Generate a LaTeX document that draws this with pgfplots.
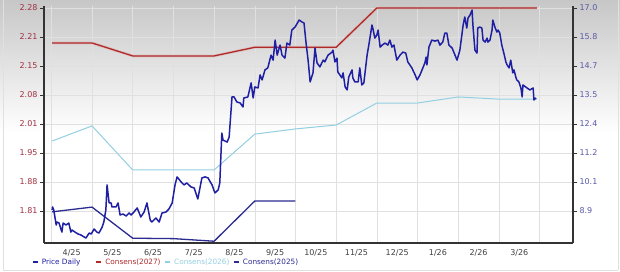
\documentclass[border=0pt]{standalone}
\usepackage{fontspec}
\setmainfont{DejaVu Sans}
\usepackage{pgfplots}
\pgfplotsset{compat=1.18}
\definecolor{pricec}{HTML}{1F1FA3}
\definecolor{c27}{HTML}{B02A2A}
\definecolor{c26}{HTML}{93CFE2}
\definecolor{c25}{HTML}{2B2B90}
\definecolor{lefttick}{HTML}{A03040}
\definecolor{righttick}{HTML}{5A5AA8}
\definecolor{xtickc}{HTML}{404040}
\definecolor{gridc}{HTML}{E0E0E0}
\begin{document}
\begin{tikzpicture}
\useasboundingbox (-44pt,-29pt) rectangle (576pt,243pt);
\fill[white] (-44pt,-29pt) rectangle (576pt,243pt);
\shade[top color=black!22,bottom color=white] (-44pt,110pt) rectangle (576pt,243pt);
\draw[black!12,line width=0.8pt] (-41pt,-27pt) -- (-41pt,243pt);
\draw[black!12,line width=0.8pt] (574pt,-27pt) -- (574pt,243pt);
\draw[black!12,line width=0.8pt] (-41pt,-27pt) -- (574pt,-27pt);
\begin{axis}[
  at={(0pt,0pt)}, anchor=south west,
  scale only axis, width=529pt, height=237pt,
  xmin=3.82, xmax=16.82, ymin=1.7359, ymax=2.2846,
  axis x line*=bottom, axis y line*=left,
  axis line style={-, black!80, line width=1.4pt},
  xtick={4.5,5.5,...,15.5},
  xticklabels={4/25,5/25,6/25,7/25,8/25,9/25,10/25,11/25,12/25,1/26,2/26,3/26},
  minor xtick={4,5,...,16},
  x tick style={draw=none},
  xminorgrids=true, xmajorgrids=false,
  ytick={1.81,1.8771,1.9443,2.0114,2.0786,2.1457,2.2129,2.28},
  yticklabels={1.81,1.88,1.95,2.01,2.08,2.15,2.21,2.28},
  ymajorgrids=true,
  grid style={gridc, line width=0.5pt},
  minor grid style={gridc, line width=0.5pt},
  tick align=outside, major tick length=4pt,
  y tick style={black!80, line width=0.8pt},
  x tick label style={font=\fontsize{8}{9}\selectfont, text=xtickc, yshift=1pt},
  y tick label style={font=\fontsize{8}{9}\selectfont, text=lefttick, xshift=1pt},
  clip=false,
]
\addplot[c26, line width=1pt] coordinates {
(4.02,1.972) (5,2.007) (6,1.905) (8,1.905) (9,1.988) (10,2.000) (11,2.009)
(12,2.060) (13,2.060) (14,2.074) (15,2.069) (15.93,2.069)};
\addplot[c27!40, line width=2.8pt, opacity=0.5] coordinates {
(4.02,2.199) (5,2.199) (6,2.169) (8,2.169) (9,2.189) (11,2.189) (12,2.28) (15.93,2.28)};
\addplot[c27, line width=1.3pt] coordinates {
(4.02,2.199) (5,2.199) (6,2.169) (8,2.169) (9,2.189) (11,2.189) (12,2.28) (15.93,2.28)};
\addplot[c25, line width=1.3pt] coordinates {
(4.02,1.808) (5,1.819) (6,1.747) (7,1.746) (8,1.740) (9,1.833) (10,1.833)};
\end{axis}
\begin{axis}[
  at={(0pt,0pt)}, anchor=south west,
  scale only axis, width=529pt, height=237pt,
  xmin=3.82, xmax=16.82, ymin=7.623, ymax=17.08,
  axis x line=none, axis y line*=right,
  axis line style={-, black!80, line width=1.4pt},
  ytick={8.9,10.057,11.214,12.371,13.529,14.686,15.843,17.0},
  yticklabels={8.9,10.1,11.2,12.4,13.5,14.7,15.8,17.0},
  minor y tick num=3,
  tick align=outside, major tick length=4pt, minor tick length=2.5pt,
  y tick style={black!80, line width=0.8pt},
  y tick label style={font=\fontsize{8}{9}\selectfont, text=righttick, xshift=-1pt},
  clip=false,
  legend columns=4,
  legend style={at={(axis description cs:-0.024,-0.082)}, anchor=west, draw=none, fill=none,
    inner sep=0pt, font=\fontsize{7.3}{8}\selectfont,
    nodes={inner xsep=3.3pt, inner ysep=0pt},
    /tikz/every even column/.append style={column sep=0pt}},
  legend image code/.code={\draw[#1, line width=2pt] (0pt,0pt) -- (5pt,0pt);},
]
\addlegendimage{pricec}
\addlegendentry{\makebox[50pt][l]{\textcolor{pricec}{Price Daily}}}
\addlegendimage{c27}
\addlegendentry{\textcolor{c27}{Consens(2027)}}
\addlegendimage{c26}
\addlegendentry{\textcolor{c26}{Consens(2026)}}
\addlegendimage{c25}
\addlegendentry{\textcolor{c25}{Consens(2025)}}
\addplot[pricec, line width=1.5pt, line join=round, forget plot] coordinates {
(4.02,8.94) (4.03,9.06) (4.06,8.94) (4.12,8.34) (4.14,8.46) (4.19,8.42) (4.26,8.06) (4.29,8.42)
(4.36,8.34) (4.43,8.42) (4.48,8.06) (4.51,8.14) (4.58,8.06) (4.66,7.98) (4.73,7.94) (4.85,7.82)
(4.93,8.02) (4.98,7.98) (5.05,8.18) (5.12,8.06) (5.17,8.02) (5.25,8.26) (5.29,8.46) (5.34,8.94)
(5.37,9.94) (5.42,9.22) (5.47,9.22) (5.49,9.06) (5.59,9.06) (5.64,9.22) (5.69,8.74) (5.76,8.78)
(5.84,8.70) (5.91,8.82) (5.96,8.74) (6.03,8.86) (6.11,9.02) (6.20,8.66) (6.28,8.86) (6.35,9.22)
(6.43,8.54) (6.47,8.46) (6.57,8.62) (6.65,8.46) (6.72,8.82) (6.82,8.86) (6.89,8.98) (6.97,9.22)
(7.04,9.94) (7.09,10.26) (7.19,10.06) (7.26,9.94) (7.33,10.02) (7.43,9.86) (7.51,9.82) (7.60,9.38)
(7.70,10.22) (7.78,10.26) (7.85,10.22) (7.95,9.94) (8.02,9.62) (8.10,9.74) (8.14,10.02) (8.19,12.01)
(8.22,11.73) (8.32,11.65) (8.37,11.85) (8.44,13.45) (8.49,13.45) (8.56,13.25) (8.64,13.21) (8.71,13.05)
(8.73,13.41) (8.83,13.45) (8.91,14.01) (8.96,13.41) (9.00,13.85) (9.08,13.81) (9.13,14.33) (9.18,14.13)
(9.25,14.53) (9.32,14.61) (9.40,15.12) (9.45,14.92) (9.50,15.72) (9.55,15.12) (9.62,15.52) (9.67,15.12)
(9.74,15.00) (9.79,15.60) (9.86,15.52) (9.91,16.12) (9.99,16.24) (10.09,16.52) (10.16,16.44) (10.21,16.40)
(10.26,15.60) (10.31,14.92) (10.36,14.05) (10.43,14.41) (10.48,15.40) (10.53,14.81) (10.60,14.65) (10.68,14.92)
(10.72,14.85) (10.80,15.12) (10.90,15.24) (10.92,15.32) (10.97,14.85) (11.02,15.00) (11.04,14.45) (11.14,14.21)
(11.17,14.41) (11.22,13.85) (11.27,13.73) (11.31,14.25) (11.39,14.53) (11.41,14.21) (11.46,14.05) (11.54,14.05)
(11.58,14.61) (11.63,13.93) (11.68,14.01) (11.76,15.12) (11.81,15.60) (11.88,16.32) (11.90,16.20) (11.95,15.80)
(12.00,15.92) (12.03,16.12) (12.08,15.44) (12.13,15.52) (12.20,15.60) (12.27,15.52) (12.32,15.72) (12.37,15.44)
(12.42,15.52) (12.49,14.92) (12.57,15.12) (12.64,15.24) (12.71,15.20) (12.76,14.85) (12.86,14.61) (12.94,14.33)
(12.99,14.13) (13.06,14.33) (13.13,14.61) (13.18,14.81) (13.21,15.04) (13.23,14.73) (13.28,15.44) (13.35,15.72)
(13.43,15.68) (13.50,15.72) (13.55,15.52) (13.62,15.64) (13.67,16.00) (13.72,16.00) (13.77,15.52) (13.85,15.40)
(13.92,15.12) (13.97,14.92) (14.04,15.32) (14.12,16.32) (14.16,16.64) (14.21,16.20) (14.24,16.60) (14.29,16.72)
(14.34,16.92) (14.36,16.32) (14.41,15.32) (14.46,15.20) (14.48,16.20) (14.53,16.24) (14.58,16.20) (14.61,15.72)
(14.66,15.64) (14.71,15.80) (14.73,15.64) (14.78,15.72) (14.83,16.12) (14.85,16.52) (14.90,16.24) (14.95,16.04)
(14.98,16.12) (15.02,16.00) (15.07,15.52) (15.12,15.20) (15.17,14.85) (15.20,14.73) (15.25,14.61) (15.29,14.92)
(15.34,14.41) (15.37,14.53) (15.42,14.21) (15.44,14.13) (15.49,14.05) (15.54,13.81) (15.57,13.45) (15.59,13.93)
(15.69,13.81) (15.76,13.73) (15.84,13.81) (15.86,13.33) (15.91,13.41)};
\end{axis}
\end{tikzpicture}
\end{document}
